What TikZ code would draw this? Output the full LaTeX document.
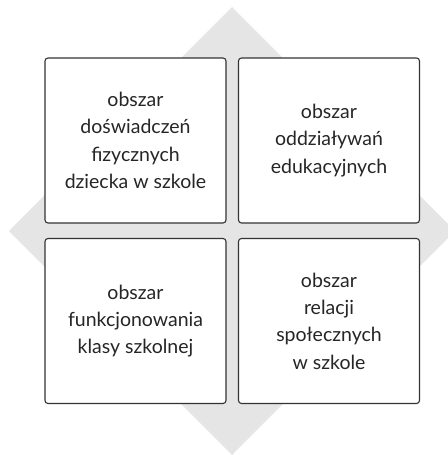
\documentclass[tikz,border=0pt]{standalone}
\usepackage{fontspec}
\setmainfont{Lato}
\begin{document}
\begin{tikzpicture}[x=1pt,y=-1pt,
  area/.style={draw=black!80, line width=1.1pt, fill=white, rounded corners=3pt,
    minimum width=181pt, minimum height=165pt, align=center, inner sep=0pt,
    font=\fontsize{19.5}{27.3}\selectfont, text=black!85},
]
\useasboundingbox (0,0) rectangle (447,455);
% grey diamond behind the four areas
\fill[black!10] (232,7) -- (455,231) -- (232,455) -- (9,231) -- cycle;
\node[area] (tl) at (135.5,140.5) {obszar\\doświadczeń\\fizycznych\\dziecka w szkole};
\node[area] (tr) at (329,140.5) {obszar\\oddziaływań\\edukacyjnych};
\node[area] (bl) at (135.5,321) {obszar\\funkcjonowania\\klasy szkolnej};
\node[area] (br) at (329,321) {obszar\\relacji\\społecznych\\w szkole};
\end{tikzpicture}
\end{document}
